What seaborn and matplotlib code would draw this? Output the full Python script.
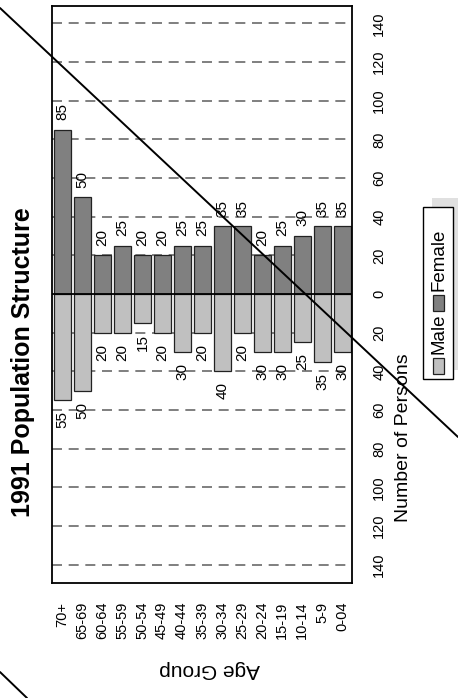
import numpy as np
import matplotlib
matplotlib.use('Agg')
import matplotlib.pyplot as plt
import seaborn as sns
from matplotlib.patches import Rectangle
from matplotlib.lines import Line2D

# data (chart is drawn turned a quarter turn, as in the reference)
age_groups = ['70+', '65-69', '60-64', '55-59', '50-54', '45-49', '40-44', '35-39',
              '30-34', '25-29', '20-24', '15-19', '10-14', '5-9', '0-04']
female = [85, 50, 20, 25, 20, 20, 25, 25, 35, 35, 20, 25, 30, 35, 35]
male = [55, 50, 20, 20, 15, 20, 30, 20, 40, 20, 30, 30, 25, 35, 30]
value_ticks = [-140, -120, -100, -80, -60, -40, -20, 0, 20, 40, 60, 80, 100, 120, 140]

sns.set_theme(style='white')
plt.rcParams['font.family'] = ['Liberation Sans', 'DejaVu Sans']
plt.rcParams['text.color'] = 'black'
plt.rcParams['xtick.color'] = 'black'
plt.rcParams['ytick.color'] = 'black'

W, H = 458, 698
fig = plt.figure(figsize=(W / 100, H / 100), dpi=100)

def fx(px):
    return px / W

def fy(py):
    return 1 - py / H

# axes box in pixels: x 52-352, y 6-583
ax = fig.add_axes([fx(52), fy(583), fx(352) - fx(52), fy(6) - fy(583)])

female_color = '#808080'
male_color = '#c0c0c0'
edge = '#222222'

# dashed grid behind the bars
for v in value_ticks:
    if v != 0:
        ax.axhline(v, color='#6a6a6a', lw=1.2, ls=(0, (6, 4)), zorder=0)

sns.barplot(x=age_groups, y=female, order=age_groups, color=female_color, saturation=1,
            width=0.85, edgecolor=edge, linewidth=0.9, ax=ax, zorder=2)
sns.barplot(x=age_groups, y=[-m for m in male], order=age_groups, color=male_color, saturation=1,
            width=0.85, edgecolor=edge, linewidth=0.9, ax=ax, zorder=2)

ax.axhline(0, color='black', lw=1.3, zorder=3)

ax.set_xlim(-0.5, len(age_groups) - 0.5)
ax.set_ylim(-149.5, 149)

# bar value labels
for i, (f, m) in enumerate(zip(female, male)):
    ax.annotate(str(f), (i, f), xytext=(0.5, 7), textcoords='offset points',
                rotation=90, ha='center', va='bottom', fontsize=11, zorder=4)
    ax.annotate(str(m), (i, -m), xytext=(0.5, -8), textcoords='offset points',
                rotation=90, ha='center', va='top', fontsize=11, zorder=4)

ax.yaxis.tick_right()
ax.set_yticks(value_ticks)
ax.set_yticklabels([str(abs(v)) for v in value_ticks], rotation=90, va='center')
ax.tick_params(axis='y', length=0, pad=14.5, labelsize=10.5)
ax.tick_params(axis='x', length=0, pad=13.5, labelsize=10.5, labelrotation=90)
ax.set_xlabel('')
ax.set_ylabel('')

for s in ax.spines.values():
    s.set_color('black')
    s.set_linewidth(1.3)
    s.set_visible(True)

# titles
fig.text(fx(23), fy(362), '1991 Population Structure', rotation=90, ha='center', va='center',
         fontsize=18, fontweight='bold')
fig.text(fx(404), fy(438), 'Number of Persons', rotation=90, ha='center', va='center', fontsize=14)
fig.text(fx(210), fy(670), 'Age Group', rotation=180, ha='center', va='center', fontsize=15)

# legend drawn by hand (shadow, frame, keys)
def px_rect(x0, y0, x1, y1, **kw):
    r = Rectangle((fx(x0), fy(y1)), fx(x1) - fx(x0), fy(y0) - fy(y1), transform=fig.transFigure, **kw)
    fig.add_artist(r)

px_rect(432, 198, 462, 370, facecolor='#e0e0e0', edgecolor='none', zorder=5)
px_rect(423, 207, 453, 379, facecolor='white', edgecolor='black', lw=1, zorder=6)
px_rect(433, 358, 444, 374, facecolor=male_color, edgecolor=edge, lw=0.9, zorder=7)
px_rect(433, 295, 444, 311, facecolor=female_color, edgecolor=edge, lw=0.9, zorder=7)
fig.text(fx(439), fy(354), 'Male', rotation=90, ha='center', va='bottom', fontsize=13.5, zorder=8)
fig.text(fx(439), fy(291), 'Female', rotation=90, ha='center', va='bottom', fontsize=13.5, zorder=8)

# the two diagonal strokes across the picture
fig.add_artist(Line2D([fx(0), fx(458)], [fy(8), fy(437)], color='black', lw=1.4, zorder=9))
fig.add_artist(Line2D([fx(0), fx(27)], [fy(672), fy(698)], color='black', lw=1.4, zorder=9))

plt.savefig('out.png', dpi=100)
